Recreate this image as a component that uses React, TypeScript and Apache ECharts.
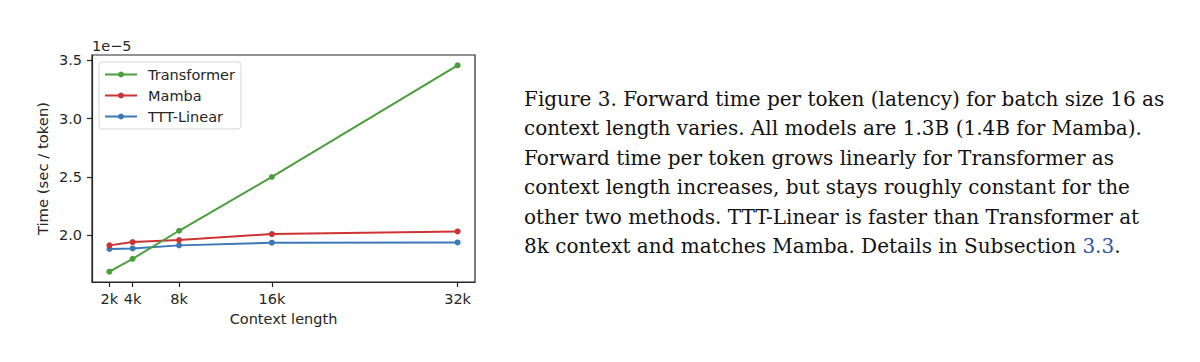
import React, { useEffect, useRef } from "react";
import * as echarts from "echarts";

// ---- data ----
const contextK = [2, 4, 8, 16, 32];
const transformer = [1.69, 1.8, 2.04, 2.5, 3.455];
const mamba = [1.915, 1.943, 1.96, 2.012, 2.034];
const tttLinear = [1.884, 1.889, 1.915, 1.938, 1.94];
const seriesNames = ["Transformer", "Mamba", "TTT-Linear"];
const xTicks = [2, 4, 8, 16, 32];
const yTicks = [2.0, 2.5, 3.0, 3.5];
const yScaleLabel = "1e\u22125";
const xAxisName = "Context length";
const yAxisName = "Time (sec / token)";
const captionLines = [
  "Figure 3. Forward time per token (latency) for batch size 16 as",
  "context length varies. All models are 1.3B (1.4B for Mamba).",
  "Forward time per token grows linearly for Transformer as",
  "context length increases, but stays roughly constant for the",
  "other two methods. TTT-Linear is faster than Transformer at",
];
const captionLastLine = "8k context and matches Mamba. Details in Subsection ";
const captionLink = "3.3";

const colors = ["#4a9f3c", "#cc3333", "#3a78b6"];

function padRange(vals: number[]) {
  const mn = Math.min(...vals);
  const mx = Math.max(...vals);
  const p = (mx - mn) * 0.05;
  return [mn - p, mx + p];
}

export default function App() {
  const ref = useRef<HTMLDivElement>(null);
  useEffect(() => {
    if (!ref.current) return;
    const chart = echarts.init(ref.current, null, { renderer: "svg" });
    const [xMin, xMax] = padRange(contextK);
    const [yMin, yMax] = padRange([...transformer, ...mamba, ...tttLinear]);
    const allSeries = [transformer, mamba, tttLinear];
    const axisColor = "#262626";
    const sans = "DejaVu Sans";
    const fs = 14.5;
    const captionX = 524;
    const captionY0 = 99;
    const captionStep = 29.4;
    const captionFont = "DejaVu Serif";

    const captionGraphics: any[] = captionLines.map((t, i) => ({
      type: "text",
      x: captionX,
      y: captionY0 + i * captionStep,
      style: {
        text: t,
        fontFamily: captionFont,
        fontSize: 20,
        fill: "#111111",
        verticalAlign: "middle",
        align: "left",
      },
    }));
    captionGraphics.push({
      type: "text",
      x: captionX,
      y: captionY0 + captionLines.length * captionStep,
      style: {
        text: captionLastLine + "{a|" + captionLink + "}.",
        fontFamily: captionFont,
        fontSize: 20,
        fill: "#111111",
        verticalAlign: "middle",
        align: "left",
        rich: {
          a: { fill: "#2f4fa2", fontFamily: captionFont, fontSize: 20 },
        },
      },
    });

    chart.setOption({
      animation: false,
      backgroundColor: "#ffffff",
      grid: {
        left: 92,
        right: 725,
        top: 55,
        bottom: 80,
        show: true,
        borderColor: axisColor,
        borderWidth: 1.2,
        backgroundColor: "transparent",
      },
      legend: {
        orient: "vertical",
        left: 99,
        top: 62,
        data: seriesNames,
        itemWidth: 32,
        itemHeight: 7.5,
        itemGap: 6,
        padding: [5, 6, 5, 5],
        backgroundColor: "rgba(255,255,255,0.85)",
        borderColor: "#d6d6d6",
        borderWidth: 1,
        borderRadius: 3,
        textStyle: {
          fontFamily: sans,
          fontSize: fs,
          color: axisColor,
          padding: [0, 0, 0, 6],
        },
      },
      xAxis: {
        type: "value",
        min: xMin,
        max: xMax,
        name: xAxisName,
        nameLocation: "middle",
        nameGap: 29,
        nameTextStyle: { fontFamily: sans, fontSize: fs, color: axisColor },
        axisLine: { show: true, lineStyle: { color: axisColor, width: 1.2 } },
        axisTick: {
          show: true,
          length: 5,
          customValues: xTicks,
          lineStyle: { color: axisColor, width: 1.2 },
        },
        axisLabel: {
          customValues: xTicks,
          formatter: (v: number) => v + "k",
          fontFamily: sans,
          fontSize: fs,
          color: axisColor,
          margin: 9,
        },
        splitLine: { show: false },
      },
      yAxis: {
        type: "value",
        min: yMin,
        max: yMax,
        name: yAxisName,
        nameLocation: "middle",
        nameGap: 42,
        nameTextStyle: { fontFamily: sans, fontSize: 14.8, color: axisColor },
        axisLine: { show: true, lineStyle: { color: axisColor, width: 1.2 } },
        axisTick: {
          show: true,
          length: 5,
          customValues: yTicks,
          lineStyle: { color: axisColor, width: 1.2 },
        },
        axisLabel: {
          customValues: yTicks,
          formatter: (v: number) => v.toFixed(1),
          fontFamily: sans,
          fontSize: fs,
          color: axisColor,
          margin: 10,
        },
        splitLine: { show: false },
      },
      series: allSeries.map((vals, si) => ({
        name: seriesNames[si],
        type: "line",
        data: contextK.map((x, i) => [x, vals[i]]),
        symbol: "circle",
        symbolSize: 6,
        color: colors[si],
        lineStyle: { color: colors[si], width: 2 },
        itemStyle: { color: colors[si] },
        z: 3 - si,
      })),
      graphic: [
        {
          type: "text",
          x: 92,
          y: 46,
          style: {
            text: yScaleLabel,
            fontFamily: sans,
            fontSize: fs,
            fill: axisColor,
            verticalAlign: "middle",
            align: "left",
          },
        },
        ...captionGraphics,
      ],
    });
    return () => chart.dispose();
  }, []);
  return (
    <div
      ref={ref}
      style={{ position: "absolute", left: 0, top: 0, width: 1200, height: 362 }}
    />
  );
}
